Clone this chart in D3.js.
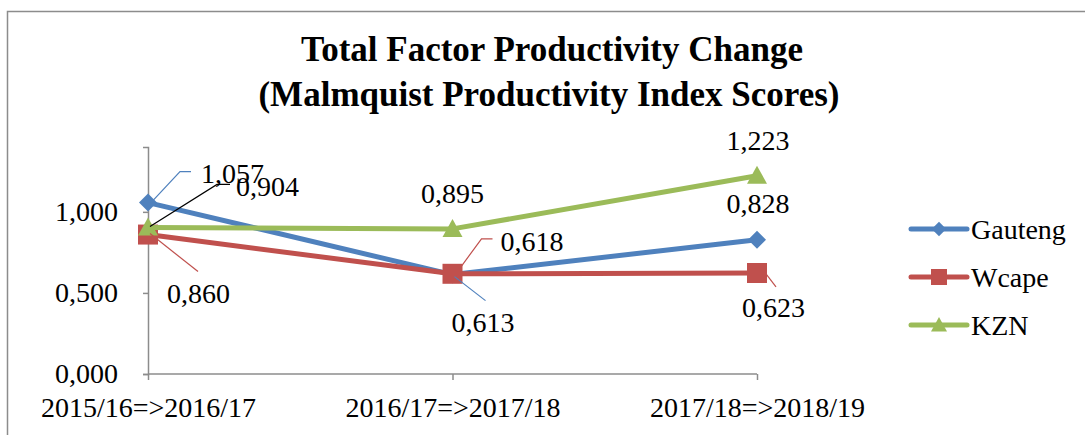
<!DOCTYPE html>
<html>
<head>
<meta charset="utf-8">
<script src="https://cdn.jsdelivr.net/npm/d3@7"></script>
<style>
  html, body { margin: 0; padding: 0; background: #fff; }
  svg { display: block; }
</style>
</head>
<body>
<svg id="chart" width="1085" height="435"></svg>
<script>
// ─── Data ───────────────────────────────────────
const categories = ['2015/16=>2016/17', '2016/17=>2017/18', '2017/18=>2018/19'];
const seriesNames = ['Gauteng', 'Wcape', 'KZN'];
const gauteng = [1.057, 0.613, 0.828];
const wcape   = [0.860, 0.618, 0.623];
const kzn     = [0.904, 0.895, 1.223];
const yTicks  = [0, 0.5, 1.0];

// ─── Styling / label placement ──────────────────
const SERIF   = 'Liberation Serif';
const colors  = ['#4F81BD', '#C0504D', '#9BBB59'];
const markers = ['diamond', 'square', 'triangle'];
// label offsets relative to the point (dx, dy to text start / baseline),
// optional leader polyline given as offsets too
const labelPos = [
  [ // Gauteng
    { dx: 53, dy: -20, anchor: 'start', leader: [[3, 0], [32, -31], [43, -31]] },
    { dx: -1, dy: 57,  anchor: 'start', leader: [[2, 2], [33, 26]] },
    { dx: 1,  dy: -27, anchor: 'middle' }
  ],
  [ // Wcape
    { dx: 19, dy: 68, anchor: 'start', leader: [[2, -1], [50, 37]] },
    { dx: 48, dy: -23, anchor: 'start', leader: [[7, -5], [29, -35], [40, -35]] },
    { dx: -15, dy: 44, anchor: 'start', leader: [[9, 1], [19, 14]] }
  ],
  [ // KZN
    { dx: 88, dy: -31, anchor: 'start', leader: [[2, -1], [69, -43], [82, -43]] },
    { dx: 0, dy: -26, anchor: 'middle' },
    { dx: 1, dy: -26, anchor: 'middle' }
  ]
];

const series = [gauteng, wcape, kzn].map((vals, i) => ({
  name: seriesNames[i], color: colors[i], marker: markers[i], values: vals
}));

const svg = d3.select('#chart').attr('font-family', SERIF);
const fmt = v => d3.format('.3f')(v).replace('.', ',');

// ─── Frame ──────────────────────────────────────
svg.append('path')
  .attr('d', 'M7.5,435 L7.5,11.5 L1085,11.5')
  .attr('fill', 'none').attr('stroke', '#8c8c8c').attr('stroke-width', 1.5);

// ─── Title ──────────────────────────────────────
const title = svg.append('text')
  .attr('x', 551).attr('text-anchor', 'middle')
  .attr('font-family', SERIF)
  .attr('font-weight', 'bold').attr('font-size', 35);
title.append('tspan').attr('x', 552).attr('y', 61).text('Total Factor Productivity Change');
title.append('tspan').attr('x', 549).attr('y', 106).text('(Malmquist Productivity Index Scores)');

// ─── Scales ─────────────────────────────────────
const x = d3.scalePoint().domain(categories).range([148, 757]);
const y = d3.scaleLinear().domain([0, 1.4]).range([374, 147]);

// ─── Axes ───────────────────────────────────────
const yAxis = svg.append('g')
  .attr('transform', 'translate(148,0)')
  .call(d3.axisLeft(y).tickValues(yTicks).tickSize(5).tickPadding(25).tickFormat(fmt));
const xAxis = svg.append('g')
  .attr('transform', 'translate(0,374)')
  .call(d3.axisBottom(x).tickSize(6).tickPadding(17));

[yAxis, xAxis].forEach(g => {
  g.attr('font-family', SERIF).attr('font-size', 28);
  g.select('.domain').attr('stroke', '#8c8c8c').attr('stroke-width', 1.5);
  g.selectAll('.tick line').attr('stroke', '#8c8c8c').attr('stroke-width', 1.5);
  g.selectAll('.tick text').attr('fill', '#000');
});
xAxis.select('.domain').attr('d', `M${x(categories[0])},0H${x(categories[2])}`);

// ─── Lines ──────────────────────────────────────
const line = d3.line().x((d, i) => x(categories[i])).y(d => y(d));

function markerPath(type) {
  if (type === 'diamond') return 'M0,-9L9,0L0,9L-9,0Z';
  if (type === 'square')  return 'M-10,-10H10V10H-10Z';
  return 'M0,-10L10,8H-10Z';
}

series.forEach(s => {
  const g = svg.append('g');
  g.append('path')
    .attr('d', line(s.values))
    .attr('fill', 'none').attr('stroke', s.color)
    .attr('stroke-width', 5).attr('stroke-linejoin', 'round').attr('stroke-linecap', 'round');
  g.selectAll('path.m')
    .data(s.values)
    .enter().append('path')
      .attr('class', 'm')
      .attr('transform', (d, i) => `translate(${x(categories[i])},${y(d)})`)
      .attr('d', markerPath(s.marker))
      .attr('fill', s.color);
});

// ─── Data labels ────────────────────────────────
series.forEach((s, si) => {
  s.values.forEach((v, i) => {
    const px = x(categories[i]), py = y(v), lp = labelPos[si][i];
    if (lp.leader) {
      svg.append('path')
        .attr('d', d3.line()(lp.leader.map(p => [px + p[0], py + p[1]])))
        .attr('fill', 'none')
        .attr('stroke', si === 2 ? '#000' : s.color)
        .attr('stroke-width', 1.2);
    }
    svg.append('text')
      .attr('x', px + lp.dx).attr('y', py + lp.dy)
      .attr('text-anchor', lp.anchor)
      .attr('font-family', SERIF)
      .attr('font-size', 28)
      .text(fmt(v));
  });
});

// ─── Legend ─────────────────────────────────────
const legend = svg.append('g').attr('transform', 'translate(911,229)');
series.forEach((s, i) => {
  const g = legend.append('g').attr('transform', `translate(0,${i * 48})`);
  g.append('line').attr('x1', 0).attr('x2', 56).attr('y1', 0).attr('y2', 0)
    .attr('stroke', s.color).attr('stroke-width', 5).attr('stroke-linecap', 'round');
  g.append('path')
    .attr('transform', 'translate(28,0) scale(0.8)')
    .attr('d', markerPath(s.marker))
    .attr('fill', s.color);
  g.append('text').attr('x', 60).attr('y', 10)
    .attr('font-family', SERIF).attr('font-size', 28).text(s.name);
});
</script>
</body>
</html>
